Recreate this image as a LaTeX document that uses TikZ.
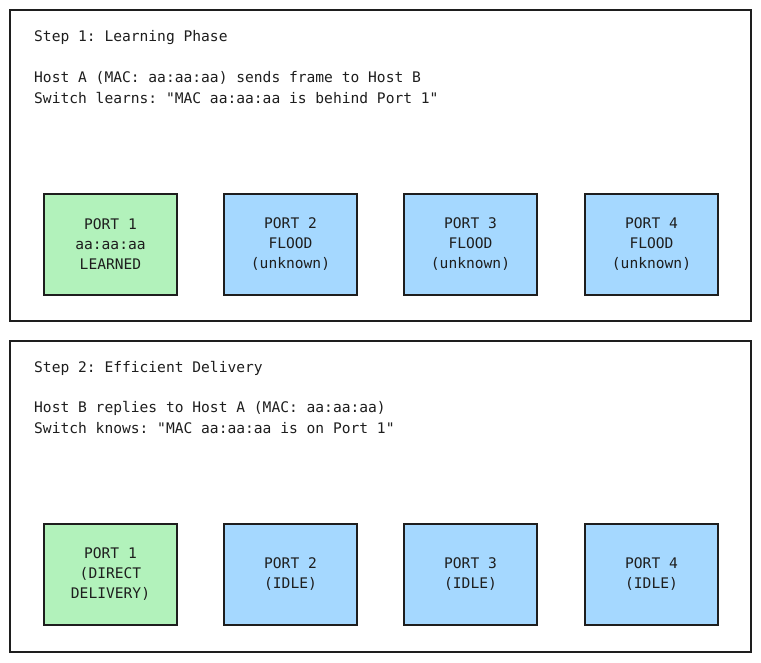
\documentclass[tikz,border=0pt]{standalone}
\usepackage{fontspec}
\setmainfont{DejaVu Sans Mono}
\usepackage{tikz}
\usetikzlibrary{positioning}

\definecolor{learned}{HTML}{B2F2BB}
\definecolor{unknown}{HTML}{A5D8FF}
\definecolor{ink}{HTML}{1E1E1E}
\frenchspacing

\begin{document}
\begin{tikzpicture}[x=1pt, y=-1pt,
    panel/.style={draw=ink, line width=2pt, minimum width=741pt, minimum height=311pt, inner sep=0pt},
    note/.style={anchor=west, inner sep=0pt, text=ink, font=\fontsize{14.6}{20}\selectfont},
    port/.style={draw=ink, line width=1.8pt, minimum width=133pt, minimum height=101pt, align=center, text=ink, font=\fontsize{14.6}{20}\selectfont}
]
    \useasboundingbox[fill=white] (0,0) rectangle (761,662);

    % Step 1 panel
    \node[panel] (phase1) at (380.5,165.5) {};
    \node[note] (title1) at (34,38) {Step 1: Learning Phase};
    \node[note] (line1a) at (34,78) {Host A (MAC: aa:aa:aa) sends frame to Host B};
    \node[note] (line1b) at (34,98) {Switch learns: \textquotedbl MAC aa:aa:aa is behind Port 1\textquotedbl};

    \node[port, fill=learned] (p1a) at (110.5,244.5) {PORT 1\\aa:aa:aa\\LEARNED};
    \foreach \i/\x in {2/290.5, 3/470.5, 4/651.5} {
        \node[port, fill=unknown] (p\i a) at (\x,244.5) {PORT \i\\FLOOD\\(unknown)};
    }

    % Step 2 panel
    \node[panel] (phase2) at (380.5,496) {};
    \node[note] (title2) at (34,368) {Step 2: Efficient Delivery};
    \node[note] (line2a) at (34,408) {Host B replies to Host A (MAC: aa:aa:aa)};
    \node[note] (line2b) at (34,428) {Switch knows: \textquotedbl MAC aa:aa:aa is on Port 1\textquotedbl};

    \node[port, fill=learned] (p1b) at (110.5,574.5) {PORT 1\\(DIRECT\\DELIVERY)};
    \foreach \i/\x in {2/290.5, 3/470.5, 4/651.5} {
        \node[port, fill=unknown] (p\i b) at (\x,574.5) {PORT \i\\(IDLE)};
    }
\end{tikzpicture}
\end{document}
